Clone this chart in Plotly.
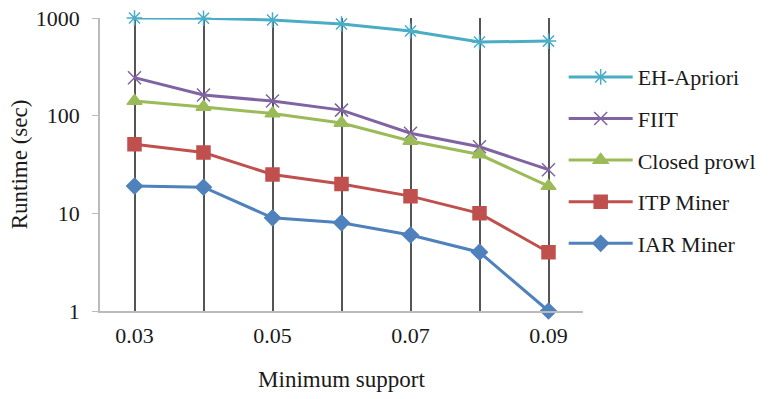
import plotly.graph_objects as go

support = [0.03, 0.04, 0.05, 0.06, 0.07, 0.08, 0.09]
tick_labels = ["0.03", "", "0.05", "", "0.07", "", "0.09"]

eh_apriori = [1000, 995, 955, 868, 736, 568, 580]
fiit = [245, 163, 141, 114, 66, 48, 28]
closed_prowl = [141, 123, 105, 84, 55, 40, 19]
itp_miner = [51, 42, 25, 20, 15, 10, 4]
iar_miner = [19, 18.5, 9, 8, 6, 4, 1]

series = [
    ("EH-Apriori", eh_apriori, "#4BACC6", "asterisk-open", 13),
    ("FIIT", fiit, "#8064A2", "x-thin-open", 13),
    ("Closed prowl", closed_prowl, "#9BBB59", "triangle-up", 13),
    ("ITP Miner", itp_miner, "#C0504D", "square", 13),
    ("IAR Miner", iar_miner, "#4F81BD", "diamond", 12),
]

fig = go.Figure()
for i, (name, vals, color, sym, size) in enumerate(series):
    fig.add_trace(go.Scatter(
        x=support, y=vals, name=name, mode="lines+markers",
        line=dict(color=color, width=3),
        marker=dict(symbol=sym, size=size, color=color,
                    line=dict(color=color, width=1.5)),
        cliponaxis=False, legendgroup=f"g{i}",
    ))

ff = "Times New Roman, Liberation Serif, serif"
txt = "#1a1a1a"
fig.update_layout(
    width=772, height=399,
    margin=dict(l=100, r=189, t=18, b=88, autoexpand=False),
    paper_bgcolor="white", plot_bgcolor="white",
    font=dict(family=ff, size=22, color=txt),
    showlegend=True,
    legend=dict(x=0.96, y=0.87, xanchor="left", yanchor="top",
                font=dict(family=ff, size=22, color=txt),
                itemwidth=64,
                tracegroupgap=10, bgcolor="rgba(0,0,0,0)"),
    xaxis=dict(
        range=[0.025, 0.095], tickvals=support, ticktext=tick_labels,
        showgrid=True, gridcolor="#555555", gridwidth=2,
        showline=True, linecolor="#bbbbbb", linewidth=1.5,
        ticks="", zeroline=False, ticklabelstandoff=4, automargin=False,
        title=dict(text="Minimum support",
                   font=dict(family=ff, size=23, color=txt), standoff=24),
        tickfont=dict(family=ff, size=22, color=txt),
    ),
    yaxis=dict(
        type="log", range=[0, 3], tickvals=[1, 10, 100, 1000],
        ticktext=["1", "10", "100", "1000"],
        showgrid=False, showline=True, linecolor="#bbbbbb", linewidth=1.5,
        ticks="outside", ticklen=6, tickcolor="#bbbbbb",
        zeroline=False, ticklabelstandoff=8, automargin=False,
        title=dict(text="Runtime (sec)",
                   font=dict(family=ff, size=23, color=txt), standoff=2),
        tickfont=dict(family=ff, size=22, color=txt),
    ),
)

fig.write_html("out.html")
